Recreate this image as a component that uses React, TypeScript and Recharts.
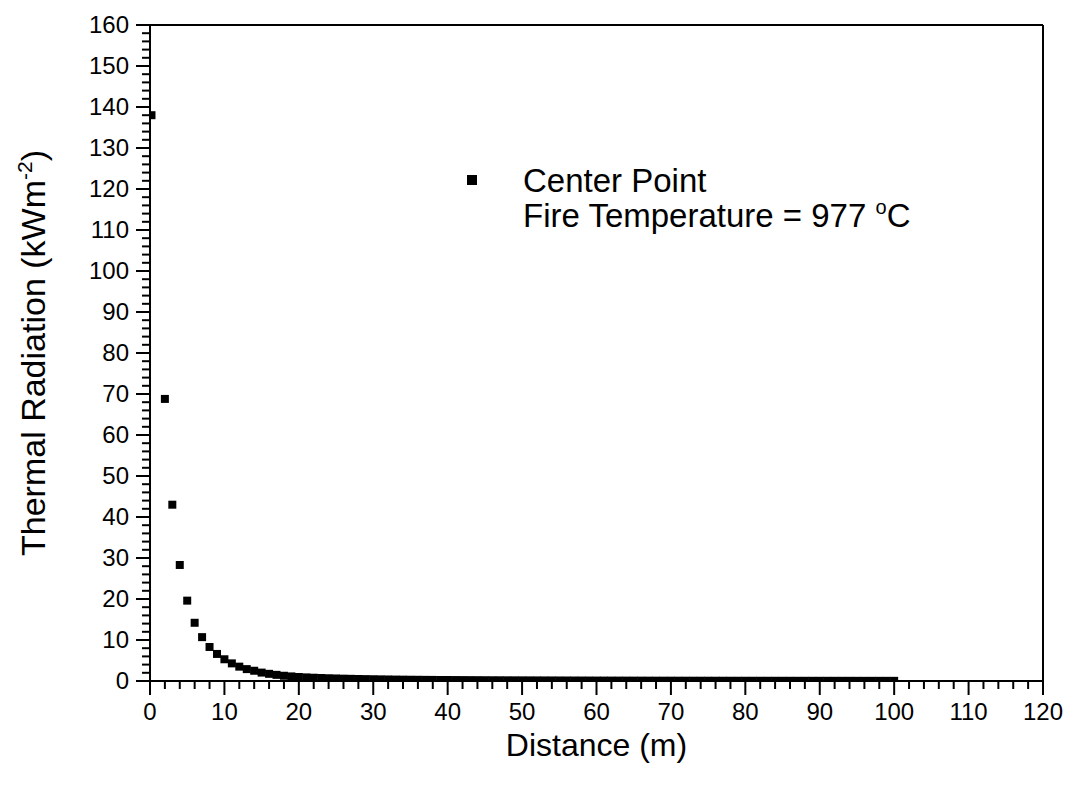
import React from 'react';
import {
  ScatterChart,
  Scatter,
  XAxis,
  YAxis,
  ZAxis,
  Label,
  Legend,
  ReferenceLine,
} from 'recharts';

const FONT = '"Liberation Sans", Arial, sans-serif';

// distance from the fire (m)
const distance = [
  0.2, 2, 3, 4, 5, 6, 7, 8, 9, 10,
  11, 12, 13, 14, 15, 16, 17, 18, 19, 20,
  21, 22, 23, 24, 25, 26, 27, 28, 29, 30,
  31, 32, 33, 34, 35, 36, 37, 38, 39, 40,
  41, 42, 43, 44, 45, 46, 47, 48, 49, 50,
  51, 52, 53, 54, 55, 56, 57, 58, 59, 60,
  61, 62, 63, 64, 65, 66, 67, 68, 69, 70,
  71, 72, 73, 74, 75, 76, 77, 78, 79, 80,
  81, 82, 83, 84, 85, 86, 87, 88, 89, 90,
  91, 92, 93, 94, 95, 96, 97, 98, 99, 100,
];

// thermal radiation at the center point (kW/m2)
const radiation = [
  138, 68.8, 43.0, 28.3, 19.6, 14.2, 10.7, 8.3, 6.6, 5.3,
  4.3, 3.5, 2.9, 2.5, 2.05, 1.75, 1.5, 1.28, 1.12, 0.98,
  0.88, 0.8, 0.73, 0.67, 0.62, 0.57, 0.53, 0.49, 0.46, 0.43,
  0.4, 0.375, 0.35, 0.33, 0.31, 0.295, 0.28, 0.265, 0.25, 0.24,
  0.23, 0.22, 0.21, 0.2, 0.19, 0.18, 0.175, 0.165, 0.16, 0.155,
  0.15, 0.145, 0.14, 0.135, 0.13, 0.125, 0.12, 0.116, 0.112, 0.108,
  0.104, 0.1, 0.097, 0.094, 0.091, 0.088, 0.085, 0.083, 0.08, 0.078,
  0.076, 0.074, 0.072, 0.07, 0.068, 0.066, 0.064, 0.063, 0.061, 0.06,
  0.058, 0.057, 0.056, 0.054, 0.053, 0.052, 0.051, 0.05, 0.049, 0.048,
  0.047, 0.046, 0.045, 0.044, 0.043, 0.042, 0.041, 0.04, 0.04, 0.039,
];

const xTicks = [
  0, 2, 4, 6, 8, 10, 12, 14, 16, 18, 20, 22, 24, 26, 28, 30, 32, 34, 36, 38,
  40, 42, 44, 46, 48, 50, 52, 54, 56, 58, 60, 62, 64, 66, 68, 70, 72, 74, 76, 78,
  80, 82, 84, 86, 88, 90, 92, 94, 96, 98, 100, 102, 104, 106, 108, 110, 112, 114,
  116, 118, 120,
];

const yTicks = [
  0, 2, 4, 6, 8, 10, 12, 14, 16, 18, 20, 22, 24, 26, 28, 30, 32, 34, 36, 38,
  40, 42, 44, 46, 48, 50, 52, 54, 56, 58, 60, 62, 64, 66, 68, 70, 72, 74, 76, 78,
  80, 82, 84, 86, 88, 90, 92, 94, 96, 98, 100, 102, 104, 106, 108, 110, 112, 114,
  116, 118, 120, 122, 124, 126, 128, 130, 132, 134, 136, 138, 140, 142, 144, 146,
  148, 150, 152, 154, 156, 158, 160,
];

const data = distance.map((d, i) => ({ distance: d, radiation: radiation[i] }));

// tick with long major / short minor marks, label only on majors
function XTick({ x, y, payload }: any) {
  const v = payload.value as number;
  const major = v % 10 === 0;
  return (
    <g>
      <line x1={x} y1={y} x2={x} y2={y + (major ? 14 : 8)} stroke="#000" strokeWidth={2} />
      {major && (
        <text x={x} y={y + 39} textAnchor="middle" fontSize={24} fontFamily={FONT} fill="#000">
          {v}
        </text>
      )}
    </g>
  );
}

function YTick({ x, y, payload }: any) {
  const v = payload.value as number;
  const major = v % 10 === 0;
  return (
    <g>
      <line x1={x} y1={y} x2={x - (major ? 14 : 8)} y2={y} stroke="#000" strokeWidth={2} />
      {major && (
        <text x={x - 21} y={y + 8} textAnchor="end" fontSize={24} fontFamily={FONT} fill="#000">
          {v}
        </text>
      )}
    </g>
  );
}

function XTitle({ viewBox }: any) {
  const cx = viewBox.x + viewBox.width / 2;
  return (
    <text x={cx} y={viewBox.y + 75} textAnchor="middle" fontSize={32} fontFamily={FONT} fill="#000">
      Distance (m)
    </text>
  );
}

function YTitle({ viewBox }: any) {
  const cy = viewBox.y + viewBox.height / 2;
  const x = 45;
  return (
    <text
      x={x}
      y={cy}
      transform={`rotate(-90, ${x}, ${cy})`}
      textAnchor="middle"
      fontSize={34}
      fontFamily={FONT}
      fill="#000"
    >
      Thermal Radiation (kWm
      <tspan dy={-13} fontSize={21}>-2</tspan>
      <tspan dy={13}>)</tspan>
    </text>
  );
}

function LegendBox({ payload }: any) {
  const name = payload?.[0]?.value ?? 'Center Point';
  return (
    <div style={{ position: 'relative', fontFamily: FONT, color: '#000' }}>
      <div
        style={{ position: 'absolute', left: 467, top: 175, width: 10, height: 10, background: '#000' }}
      />
      <div
        style={{
          position: 'absolute',
          left: 523,
          top: 163,
          fontSize: 33,
          lineHeight: '35px',
          whiteSpace: 'nowrap',
        }}
      >
        {name}
        <br />
        Fire Temperature = 977{' '}
        <span style={{ fontSize: 20, position: 'relative', top: -13, lineHeight: 0 }}>o</span>C
      </div>
    </div>
  );
}

export default function App() {
  return (
    <div style={{ position: 'absolute', left: 0, top: 0, background: '#fff' }}>
      <ScatterChart
        width={1069}
        height={787}
        margin={{ top: 25, right: 26, bottom: 0, left: 0 }}
      >
        <XAxis
          type="number"
          dataKey="distance"
          domain={[0, 120]}
          ticks={xTicks}
          interval={0}
          height={106}
          tickSize={0}
          tickMargin={0}
          tickLine={false}
          axisLine={{ stroke: '#000', strokeWidth: 2 }}
          tick={<XTick />}
          allowDataOverflow
        >
          <Label content={<XTitle />} />
        </XAxis>
        <YAxis
          type="number"
          dataKey="radiation"
          domain={[0, 160]}
          ticks={yTicks}
          interval={0}
          width={150}
          tickSize={0}
          tickMargin={0}
          tickLine={false}
          axisLine={{ stroke: '#000', strokeWidth: 2 }}
          tick={<YTick />}
          allowDataOverflow
        >
          <Label content={<YTitle />} />
        </YAxis>
        <ZAxis range={[56, 56]} />
        <ReferenceLine y={160} stroke="#000" strokeWidth={2} />
        <ReferenceLine x={120} stroke="#000" strokeWidth={2} />
        <Legend
          verticalAlign="middle"
          align="center"
          layout="horizontal"
          content={<LegendBox />}
          wrapperStyle={{ left: 0, top: 0, width: 1069, height: 0 }}
        />
        <Scatter
          name="Center Point"
          data={data}
          fill="#000"
          shape="square"
          isAnimationActive={false}
        />
      </ScatterChart>
    </div>
  );
}
